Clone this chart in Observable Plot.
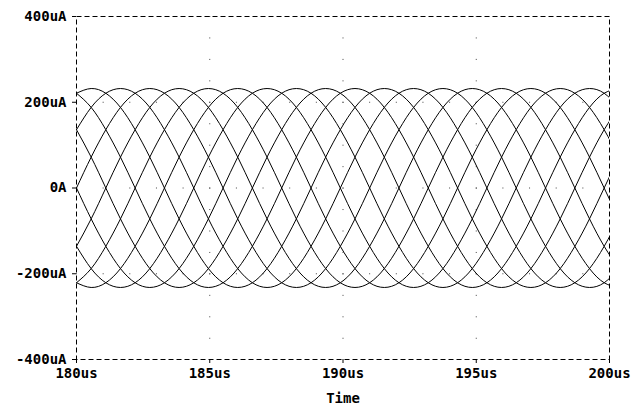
<!DOCTYPE html>
<html><head><meta charset="utf-8">
<script src="https://cdn.jsdelivr.net/npm/d3@7"></script>
<script src="https://cdn.jsdelivr.net/npm/@observablehq/plot@0.6"></script>
<style>body{margin:0;background:#fff}</style>
</head><body><div id="chart"></div>
<script>
// sample times (us)
const times = [180, 180.55, 181.1, 181.65, 182.2, 182.75, 183.3, 183.85, 184.4, 184.95, 185.5, 186.05, 186.6, 187.15, 187.7, 188.25, 188.8, 189.35, 189.9, 190.45, 191, 191.55, 192.1, 192.65, 193.2, 193.75, 194.3, 194.85, 195.4, 195.95, 196.5, 197.05, 197.6, 198.15, 198.7, 199.25, 199.8, 200.35];
// currents (uA)
const i1 = [0,72,136,188,221,232,221,188,136,72,0,-72,-136,-188,-221,-232,-221,-188,-136,-72,0,72,136,188,221,232,221,188,136,72,0,-72,-136,-188,-221,-232,-221,-188];
const i2 = [136,188,221,232,221,188,136,72,0,-72,-136,-188,-221,-232,-221,-188,-136,-72,0,72,136,188,221,232,221,188,136,72,0,-72,-136,-188,-221,-232,-221,-188,-136,-72];
const i3 = [221,232,221,188,136,72,0,-72,-136,-188,-221,-232,-221,-188,-136,-72,0,72,136,188,221,232,221,188,136,72,0,-72,-136,-188,-221,-232,-221,-188,-136,-72,0,72];
const i4 = [221,188,136,72,0,-72,-136,-188,-221,-232,-221,-188,-136,-72,0,72,136,188,221,232,221,188,136,72,0,-72,-136,-188,-221,-232,-221,-188,-136,-72,0,72,136,188];
const i5 = [136,72,0,-72,-136,-188,-221,-232,-221,-188,-136,-72,0,72,136,188,221,232,221,188,136,72,0,-72,-136,-188,-221,-232,-221,-188,-136,-72,0,72,136,188,221,232];
const i6 = [0,-72,-136,-188,-221,-232,-221,-188,-136,-72,0,72,136,188,221,232,221,188,136,72,0,-72,-136,-188,-221,-232,-221,-188,-136,-72,0,72,136,188,221,232,221,188];
const i7 = [-136,-188,-221,-232,-221,-188,-136,-72,0,72,136,188,221,232,221,188,136,72,0,-72,-136,-188,-221,-232,-221,-188,-136,-72,0,72,136,188,221,232,221,188,136,72];
const i8 = [-221,-232,-221,-188,-136,-72,0,72,136,188,221,232,221,188,136,72,0,-72,-136,-188,-221,-232,-221,-188,-136,-72,0,72,136,188,221,232,221,188,136,72,0,-72];
const i9 = [-221,-188,-136,-72,0,72,136,188,221,232,221,188,136,72,0,-72,-136,-188,-221,-232,-221,-188,-136,-72,0,72,136,188,221,232,221,188,136,72,0,-72,-136,-188];
const i10 = [-136,-72,0,72,136,188,221,232,221,188,136,72,0,-72,-136,-188,-221,-232,-221,-188,-136,-72,0,72,136,188,221,232,221,188,136,72,0,-72,-136,-188,-221,-232];
const xTicks = [180, 185, 190, 195, 200];
const yTicks = [-400, -200, 0, 200, 400];
const xGrid = [185, 190, 195];
const yGrid = [-200, 0, 200];

const series = [i1, i2, i3, i4, i5, i6, i7, i8, i9, i10];
const data = series.flatMap((vals, s) => vals.map((v, j) => ({t: times[j], i: v, s})));

const chart = Plot.plot({
  width: 644, height: 410,
  marginLeft: 76, marginRight: 35, marginTop: 16, marginBottom: 51,
  style: {fontFamily: "DejaVu Sans Mono", fontWeight: "bold", fontSize: "14px", color: "black", background: "white"},
  x: {domain: [180, 200], ticks: xTicks, tickFormat: d => d + "us", tickSize: 4, tickPadding: 5,
      label: "Time", labelAnchor: "center", labelArrow: "none", labelOffset: 43},
  y: {domain: [-400, 400], ticks: yTicks, tickFormat: d => d === 0 ? "0A" : d + "uA", tickSize: 4, tickPadding: 6, label: null},
  marks: [
    Plot.ruleX(xGrid, {stroke: "#444", strokeDasharray: "1,20.45"}),
    Plot.ruleY(yGrid, {stroke: "#444", strokeDasharray: "1,25.65"}),
    Plot.line(data, {x: "t", y: "i", z: "s", stroke: "black", strokeWidth: 1, curve: "natural", clip: true}),
    Plot.frame({stroke: "black", strokeDasharray: "5,3"})
  ]
});
document.getElementById("chart").appendChild(chart);
</script>
</body></html>
